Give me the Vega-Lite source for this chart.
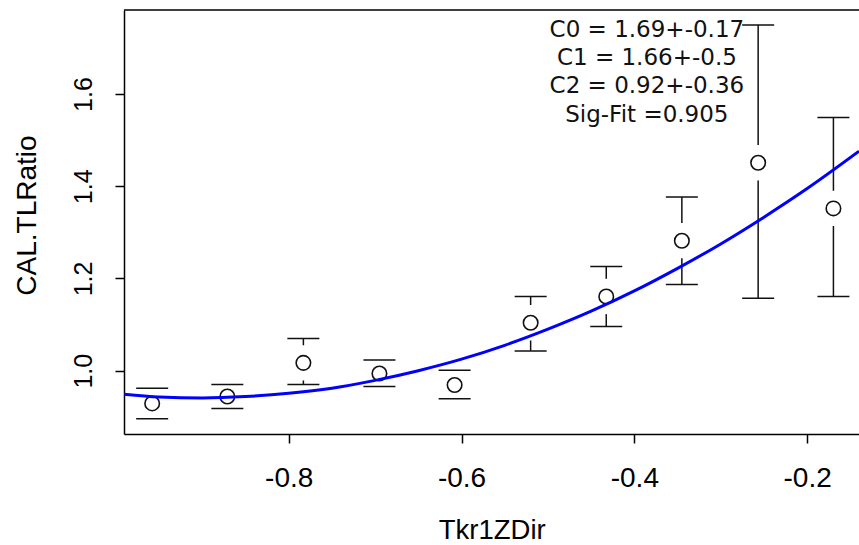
{
  "$schema": "https://vega.github.io/schema/vega-lite/v6.json",
  "width": 735,
  "height": 424,
  "autosize": {"type": "none"},
  "padding": {"left": 124, "top": 10, "right": 0, "bottom": 111},
  "background": "white",
  "config": {
    "view": {"stroke": null},
    "axis": {
      "grid": false,
      "domainColor": "black",
      "domainWidth": 1.5,
      "tickColor": "black",
      "tickWidth": 1.5,
      "tickSize": 9,
      "labelColor": "black",
      "labelFont": "Liberation Sans",
      "titleFont": "Liberation Sans",
      "titleColor": "black",
      "titleFontWeight": "normal",
      "labelFlush": false,
      "labelOverlap": false
    }
  },
  "datasets": {
    "pts": [
      {"x": -0.958, "y": 0.929, "lo": 0.896, "hi": 0.962},
      {"x": -0.871, "y": 0.944, "lo": 0.918, "hi": 0.970},
      {"x": -0.783, "y": 1.017, "lo": 0.970, "hi": 1.070},
      {"x": -0.695, "y": 0.994, "lo": 0.966, "hi": 1.023},
      {"x": -0.608, "y": 0.969, "lo": 0.939, "hi": 1.001},
      {"x": -0.520, "y": 1.104, "lo": 1.043, "hi": 1.161},
      {"x": -0.4325, "y": 1.161, "lo": 1.096, "hi": 1.226},
      {"x": -0.345, "y": 1.282, "lo": 1.187, "hi": 1.377},
      {"x": -0.2567, "y": 1.451, "lo": 1.157, "hi": 1.750},
      {"x": -0.1696, "y": 1.352, "lo": 1.161, "hi": 1.549}
    ],
    "fit": [
      {"x": -0.9906, "y": 0.949},
      {"x": -0.95, "y": 0.943},
      {"x": -0.90, "y": 0.941},
      {"x": -0.85, "y": 0.944},
      {"x": -0.80, "y": 0.951},
      {"x": -0.75, "y": 0.962},
      {"x": -0.70, "y": 0.979},
      {"x": -0.65, "y": 1.000},
      {"x": -0.60, "y": 1.025},
      {"x": -0.55, "y": 1.055},
      {"x": -0.50, "y": 1.090},
      {"x": -0.45, "y": 1.129},
      {"x": -0.40, "y": 1.173},
      {"x": -0.35, "y": 1.222},
      {"x": -0.30, "y": 1.275},
      {"x": -0.25, "y": 1.333},
      {"x": -0.20, "y": 1.395},
      {"x": -0.14, "y": 1.476}
    ],
    "ann": [
      {"x": -0.3855, "y": 1.7245, "label": "C0 = 1.69+-0.17"},
      {"x": -0.3855, "y": 1.663, "label": "C1 = 1.66+-0.5"},
      {"x": -0.3855, "y": 1.6017, "label": "C2 = 0.92+-0.36"},
      {"x": -0.3855, "y": 1.540, "label": "Sig-Fit =0.905"}
    ]
  },
  "layer": [
    {
      "data": {"name": "pts"},
      "mark": {"type": "rule", "color": "#111111", "strokeWidth": 1.5},
      "encoding": {
        "x": {
          "field": "x", "type": "quantitative",
          "scale": {"domain": [-0.9906, -0.14], "zero": false, "nice": false},
          "title": "Tkr1ZDir",
          "axis": {
            "values": [-0.8, -0.6, -0.4, -0.2],
            "labelExpr": "replace(format(datum.value, '.1f'), '\u2212', '-')",
            "labelFontSize": 28,
            "labelBaseline": "alphabetic",
            "labelAlign": "center",
            "labelPadding": 43,
            "title": "Tkr1ZDir",
            "titleFontSize": 27.5,
            "titleX": 367.7,
            "titleY": 104,
            "titleAlign": "center",
            "titleBaseline": "alphabetic"
          }
        },
        "y": {
          "field": "lo", "type": "quantitative",
          "scale": {"domain": [0.8627, 1.7824], "zero": false, "nice": false},
          "title": "CAL.TLRatio",
          "axis": {
            "values": [1.0, 1.2, 1.4, 1.6],
            "format": ".1f",
            "labelFontSize": 25,
            "labelAngle": -90,
            "labelAlign": "center",
            "labelBaseline": "alphabetic",
            "labelPadding": 23.3,
            "title": "CAL.TLRatio",
            "titleFontSize": 28,
            "titleAngle": -90,
            "titleX": -89,
            "titleY": 205,
            "titleAlign": "center",
            "titleBaseline": "alphabetic"
          }
        },
        "y2": {"field": "hi"}
      }
    },
    {
      "data": {"values": [{}]},
      "mark": {"type": "rule", "color": "black", "strokeWidth": 1.5},
      "encoding": {
        "y": {"datum": 1.7824, "type": "quantitative", "title": "CAL.TLRatio"}
      }
    },
    {
      "data": {"name": "pts"},
      "mark": {"type": "point", "shape": "circle", "filled": true, "fill": "white", "opacity": 1, "strokeWidth": 0, "size": 1250},
      "encoding": {
        "x": {"field": "x", "type": "quantitative", "title": "Tkr1ZDir"},
        "y": {"field": "y", "type": "quantitative", "title": "CAL.TLRatio"}
      }
    },
    {
      "data": {"name": "pts"},
      "mark": {"type": "rule", "color": "#111111", "strokeWidth": 1.5, "xOffset": -16, "x2Offset": 16},
      "encoding": {
        "x": {"field": "x", "type": "quantitative", "title": "Tkr1ZDir"},
        "x2": {"field": "x"},
        "y": {"field": "lo", "type": "quantitative", "title": "CAL.TLRatio"}
      }
    },
    {
      "data": {"name": "pts"},
      "mark": {"type": "rule", "color": "#111111", "strokeWidth": 1.5, "xOffset": -16, "x2Offset": 16},
      "encoding": {
        "x": {"field": "x", "type": "quantitative", "title": "Tkr1ZDir"},
        "x2": {"field": "x"},
        "y": {"field": "hi", "type": "quantitative", "title": "CAL.TLRatio"}
      }
    },
    {
      "data": {"name": "pts"},
      "mark": {"type": "point", "shape": "circle", "filled": false, "stroke": "#111111", "strokeWidth": 1.6, "size": 210, "opacity": 1},
      "encoding": {
        "x": {"field": "x", "type": "quantitative", "title": "Tkr1ZDir"},
        "y": {"field": "y", "type": "quantitative", "title": "CAL.TLRatio"}
      }
    },
    {
      "data": {"name": "fit"},
      "mark": {"type": "line", "color": "#0000FF", "strokeWidth": 3, "interpolate": "monotone"},
      "encoding": {
        "x": {"field": "x", "type": "quantitative", "title": "Tkr1ZDir"},
        "y": {"field": "y", "type": "quantitative", "title": "CAL.TLRatio"}
      }
    },
    {
      "data": {"name": "ann"},
      "mark": {"type": "text", "font": "DejaVu Sans", "fontSize": 23, "align": "center", "baseline": "alphabetic", "color": "#111111"},
      "encoding": {
        "x": {"field": "x", "type": "quantitative", "title": "Tkr1ZDir"},
        "y": {"field": "y", "type": "quantitative", "title": "CAL.TLRatio"},
        "text": {"field": "label"}
      }
    }
  ]
}
